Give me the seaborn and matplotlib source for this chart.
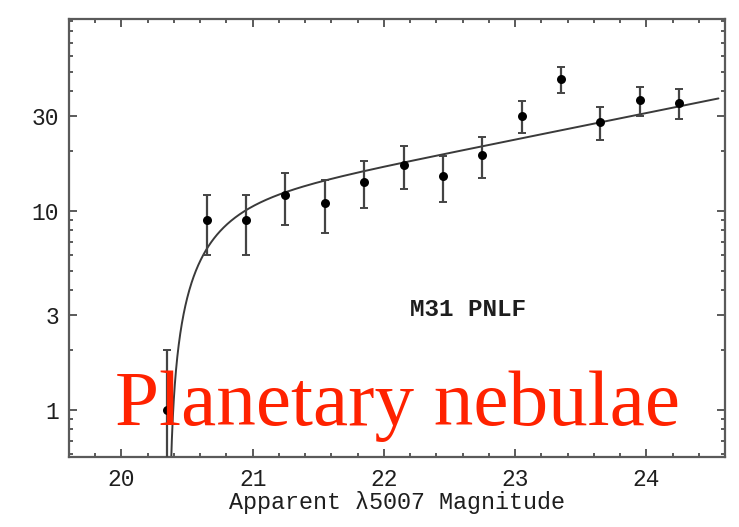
import numpy as np
import pandas as pd
import matplotlib
matplotlib.use("Agg")
import matplotlib.pyplot as plt
from matplotlib.ticker import FixedLocator, NullFormatter, FixedFormatter
import seaborn as sns

# Binned M31 planetary nebula counts (0.3 mag bins)
magnitude = [20.35, 20.65, 20.95, 21.25, 21.55, 21.85, 22.15,
             22.45, 22.75, 23.05, 23.35, 23.65, 23.95, 24.25]
counts = [1, 9, 9, 12, 11, 14, 17, 15, 19, 30, 46, 28, 36, 35]
count_err = [1.0, 3.0, 3.0, 3.5, 3.3, 3.7, 4.1, 3.9, 4.4, 5.5, 6.8, 5.3, 6.0, 5.9]

# Fitted PNLF: N(m) ~ exp(0.307 m) * (1 - exp(3 (m* - m)))
m_star = 20.36
n_at_24 = 31.0
m_end = 24.55

x_ticks = [20, 21, 22, 23, 24]
y_ticks = [1, 3, 10, 30]
y_tick_labels = ["1", "3", "10", "30"]

sns.set_style("ticks")
plt.rcParams["font.family"] = ["Liberation Mono", "DejaVu Sans Mono"]

fig = plt.figure(figsize=(7.39, 5.27), dpi=100)
ax = fig.add_axes([69 / 739, 1 - 457 / 527, (725 - 69) / 739, (457 - 19) / 527])

frame = "#5a5a5a"
ink = "#1e1e1e"

# model curve
dm = np.geomspace(1e-4, m_end - m_star, 500)
m_curve = m_star + dm
n_curve = n_at_24 * np.exp(0.307 * (m_curve - 24.0)) * (1 - np.exp(3 * (m_star - m_curve)))
curve = pd.DataFrame({"m": m_curve, "n": n_curve})
sns.lineplot(data=curve, x="m", y="n", ax=ax, color="#3a3a3a", lw=1.4,
             sort=False, estimator=None, zorder=2)

# data with Poisson error bars
ax.errorbar(magnitude, counts, yerr=count_err, fmt="none", ecolor="#444444",
            elinewidth=1.6, capsize=3.2, capthick=1.4, zorder=3)
sns.scatterplot(x=magnitude, y=counts, ax=ax, color="black", s=42,
                edgecolor="black", linewidth=0, zorder=4)

ax.set_yscale("log", nonpositive="clip")
ax.set_xlim(19.6, 24.6)
ax.set_ylim(0.58, 92)

# ticks
ax.xaxis.set_major_locator(FixedLocator(x_ticks))
ax.xaxis.set_minor_locator(FixedLocator(np.arange(19.6, 24.61, 0.2)))
ax.yaxis.set_major_locator(FixedLocator(y_ticks))
ax.yaxis.set_major_formatter(FixedFormatter(y_tick_labels))
minor_y = [0.6, 0.7, 0.8, 0.9, 2, 4, 5, 6, 7, 8, 9, 20, 40, 50, 60, 70, 80, 90]
ax.yaxis.set_minor_locator(FixedLocator(minor_y))
ax.yaxis.set_minor_formatter(NullFormatter())

ax.tick_params(which="both", direction="in", top=True, right=True,
               color=frame, width=1.4, labelcolor=ink)
ax.tick_params(which="major", length=6, labelsize=16.5)
ax.tick_params(axis="x", which="major", pad=8)
ax.tick_params(axis="y", which="major", pad=7)
ax.tick_params(which="minor", length=3)

for sp in ax.spines.values():
    sp.set_color(frame)
    sp.set_linewidth(1.6)

ax.set_xlabel("Apparent λ5007 Magnitude", fontsize=16.8, color=ink,
              labelpad=0)
ax.set_ylabel("")

ax.text(22.2, 3.2, "M31 PNLF", fontsize=17.5, color=ink,
        ha="left", va="center", fontweight="bold")

fig.text(115 / 739, 1 - 425 / 527, "Planetary nebulae", color="#ff2200",
         fontsize=57, family="Liberation Serif", ha="left", va="baseline",
         zorder=10)

fig.savefig("out.png", dpi=100)
